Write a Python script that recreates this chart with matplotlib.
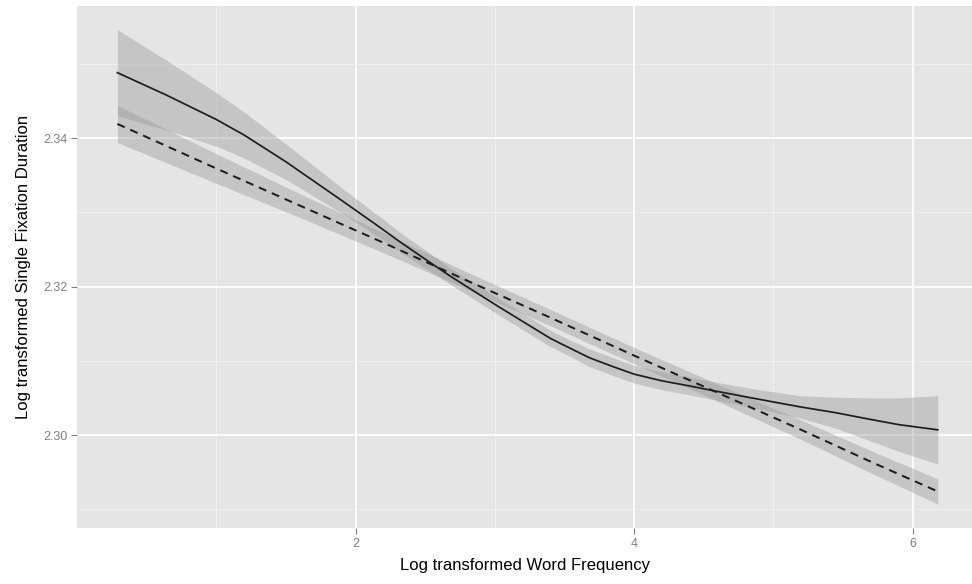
import matplotlib
matplotlib.use('Agg')
import matplotlib.pyplot as plt
import numpy as np

# loess curve (solid)
x_loess = [0.29, 0.64, 1.0, 1.2, 1.5, 1.9, 2.18, 2.32, 2.53, 2.68, 3.0, 3.2, 3.4,
           3.55, 3.68, 3.85, 4.0, 4.2, 4.4, 4.59, 4.9, 5.19, 5.45, 5.67, 5.9, 6.18]
y_loess = [2.3488, 2.3458, 2.3425, 2.3404, 2.3368, 2.3316, 2.3279, 2.3260, 2.3233,
           2.3214, 2.3176, 2.3153, 2.3130, 2.3116, 2.3104, 2.3092, 2.3082, 2.3073,
           2.3066, 2.3059, 2.3048, 2.3038, 2.3030, 2.3022, 2.3014, 2.3007]
se_loess = [0.0058, 0.0047, 0.0036, 0.0031, 0.0024, 0.0017, 0.0014, 0.0013, 0.0012,
            0.0011, 0.0011, 0.0011, 0.0011, 0.0011, 0.0012, 0.0012, 0.0012, 0.0012,
            0.0012, 0.0012, 0.0013, 0.0015, 0.0021, 0.0028, 0.0036, 0.0046]

# linear fit (dashed)
x_lm = [0.29, 1.0, 1.6, 2.2, 2.8, 3.4, 4.0, 4.6, 5.2, 5.7, 6.18]
y_lm = [2.3419, 2.3359, 2.3309, 2.3259, 2.3208, 2.3158, 2.3107, 2.3057, 2.3007,
        2.2964, 2.2924]
se_lm = [0.0025, 0.0020, 0.0016, 0.00135, 0.00115, 0.0011, 0.0011, 0.00115,
         0.0013, 0.0015, 0.0017]

x_ticks = [2, 4, 6]
y_ticks = [2.30, 2.32, 2.34]

plt.rcParams['font.family'] = ['Liberation Sans', 'DejaVu Sans']

fig = plt.figure(figsize=(9.72, 5.84), dpi=100)
ax = fig.add_axes([77/972, 1-528/584, 1-77/972, (528-6)/584])
ax.set_facecolor('#E5E5E5')
for s in ax.spines.values():
    s.set_visible(False)

# ribbons + lines
lo = np.array(y_loess) - np.array(se_loess)
hi = np.array(y_loess) + np.array(se_loess)
ax.fill_between(x_loess, lo, hi, color='#999999', alpha=0.42, linewidth=0, zorder=2)
ax.plot(x_loess, y_loess, color='#1E1E1E', lw=1.25, zorder=3)

lo2 = np.array(y_lm) - np.array(se_lm)
hi2 = np.array(y_lm) + np.array(se_lm)
ax.fill_between(x_lm, lo2, hi2, color='#999999', alpha=0.42, linewidth=0, zorder=2)
ax.plot(x_lm, y_lm, color='#1E1E1E', lw=1.45, dashes=(4, 3), zorder=3)

ax.set_xlim(0.0, 6.426)
ax.set_ylim(2.28748, 2.35778)

ax.set_xticks(x_ticks)
ax.set_xticklabels([str(t) for t in x_ticks])
ax.set_yticks(y_ticks)
ax.set_yticklabels(['%.2f' % t for t in y_ticks])
ax.set_xticks([1, 3, 5], minor=True)
ax.set_yticks([2.29, 2.31, 2.33, 2.35], minor=True)

ax.grid(which='major', color='white', lw=1.3, zorder=1)
ax.grid(which='minor', color='#F2F2F2', lw=0.6, zorder=1)
ax.set_axisbelow(True)
ax.tick_params(which='major', length=4, width=0.8, color='#7F7F7F',
               labelcolor='#7F7F7F', labelsize=9, pad=3)
ax.tick_params(which='minor', length=0)

ax.set_xlabel('Log transformed Word Frequency', fontsize=12, labelpad=6)
ax.set_ylabel('Log transformed Single Fixation Duration', fontsize=12, labelpad=9)

fig.savefig('out.png', dpi=100)
